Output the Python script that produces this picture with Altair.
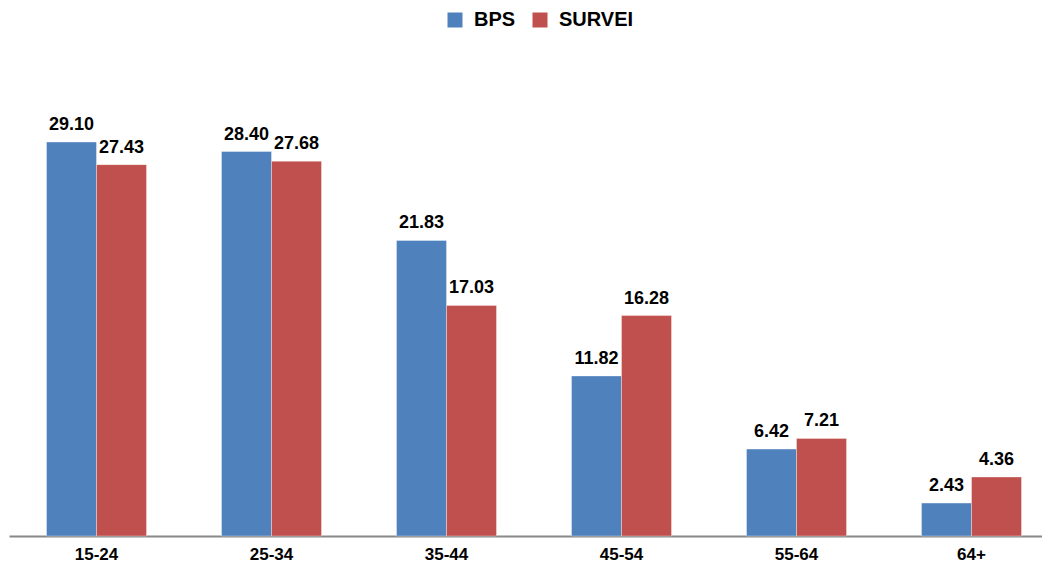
import altair as alt
import pandas as pd

groups = ["15-24", "25-34", "35-44", "45-54", "55-64", "64+"]
series = ["BPS", "SURVEI"]
bps = [29.10, 28.40, 21.83, 11.82, 6.42, 2.43]
survei = [27.43, 27.68, 17.03, 16.28, 7.21, 4.36]
colors = ["#4F81BD", "#C0504D"]

rows = []
for g, b, s in zip(groups, bps, survei):
    rows.append({"group": g, "series": "BPS", "value": b})
    rows.append({"group": g, "series": "SURVEI", "value": s})
df = pd.DataFrame(rows)

FONT = "Liberation Sans"

x = alt.X(
    "group:N",
    sort=groups,
    scale=alt.Scale(range=[1, 1051], paddingInner=0.4286, paddingOuter=0.2143),
    axis=alt.Axis(
        title=None,
        ticks=False,
        tickSize=0,
        labelAngle=0,
        labelFont=FONT,
        labelFontSize=17,
        labelFontWeight="bold",
        labelColor="#000000",
        labelBaseline="alphabetic",
        labelPadding=23,
        domainColor="#888888",
        domainWidth=2,
        grid=False,
    ),
)
xo = alt.XOffset("series:N", sort=series, scale=alt.Scale(paddingInner=0, paddingOuter=0))
y = alt.Y("value:Q", scale=alt.Scale(domain=[0, 39], nice=False), axis=None)

bars = alt.Chart(df).mark_bar(stroke="#ffffff", strokeOpacity=0.5, strokeWidth=0.7).encode(
    x=x,
    xOffset=xo,
    y=y,
    color=alt.Color(
        "series:N",
        sort=series,
        scale=alt.Scale(domain=series, range=colors),
        legend=alt.Legend(
            title=None,
            orient="none",
            direction="horizontal",
            legendX=437,
            legendY=2,
            symbolType="square",
            symbolSize=225,
            symbolStrokeWidth=0,
            symbolOpacity=1,
            labelFont=FONT,
            labelFontSize=20,
            labelFontWeight="bold",
            labelColor="#000000",
            labelOffset=9,
            columnPadding=14,
            padding=0,
        ),
    ),
)

labels = alt.Chart(df).mark_text(
    font=FONT, fontSize=18, fontWeight="bold", color="#000000",
    baseline="alphabetic", dy=-12,
).encode(
    x=x,
    xOffset=xo,
    y=y,
    text=alt.Text("value:Q", format=".2f"),
)

chart = (
    alt.layer(bars, labels)
    .properties(
        width=1034,
        height=528,
        padding={"left": 0, "top": 0, "right": 0, "bottom": 27},
        autosize=alt.AutoSizeParams(type="none"),
        view=alt.ViewBackground(strokeWidth=0, strokeOpacity=0, stroke="transparent"),
    )
    .configure_view(strokeWidth=0, strokeOpacity=0, stroke="transparent")
    .configure(background="#ffffff")
)

chart.save("out.html", embed_options={"renderer": "svg", "actions": False})
